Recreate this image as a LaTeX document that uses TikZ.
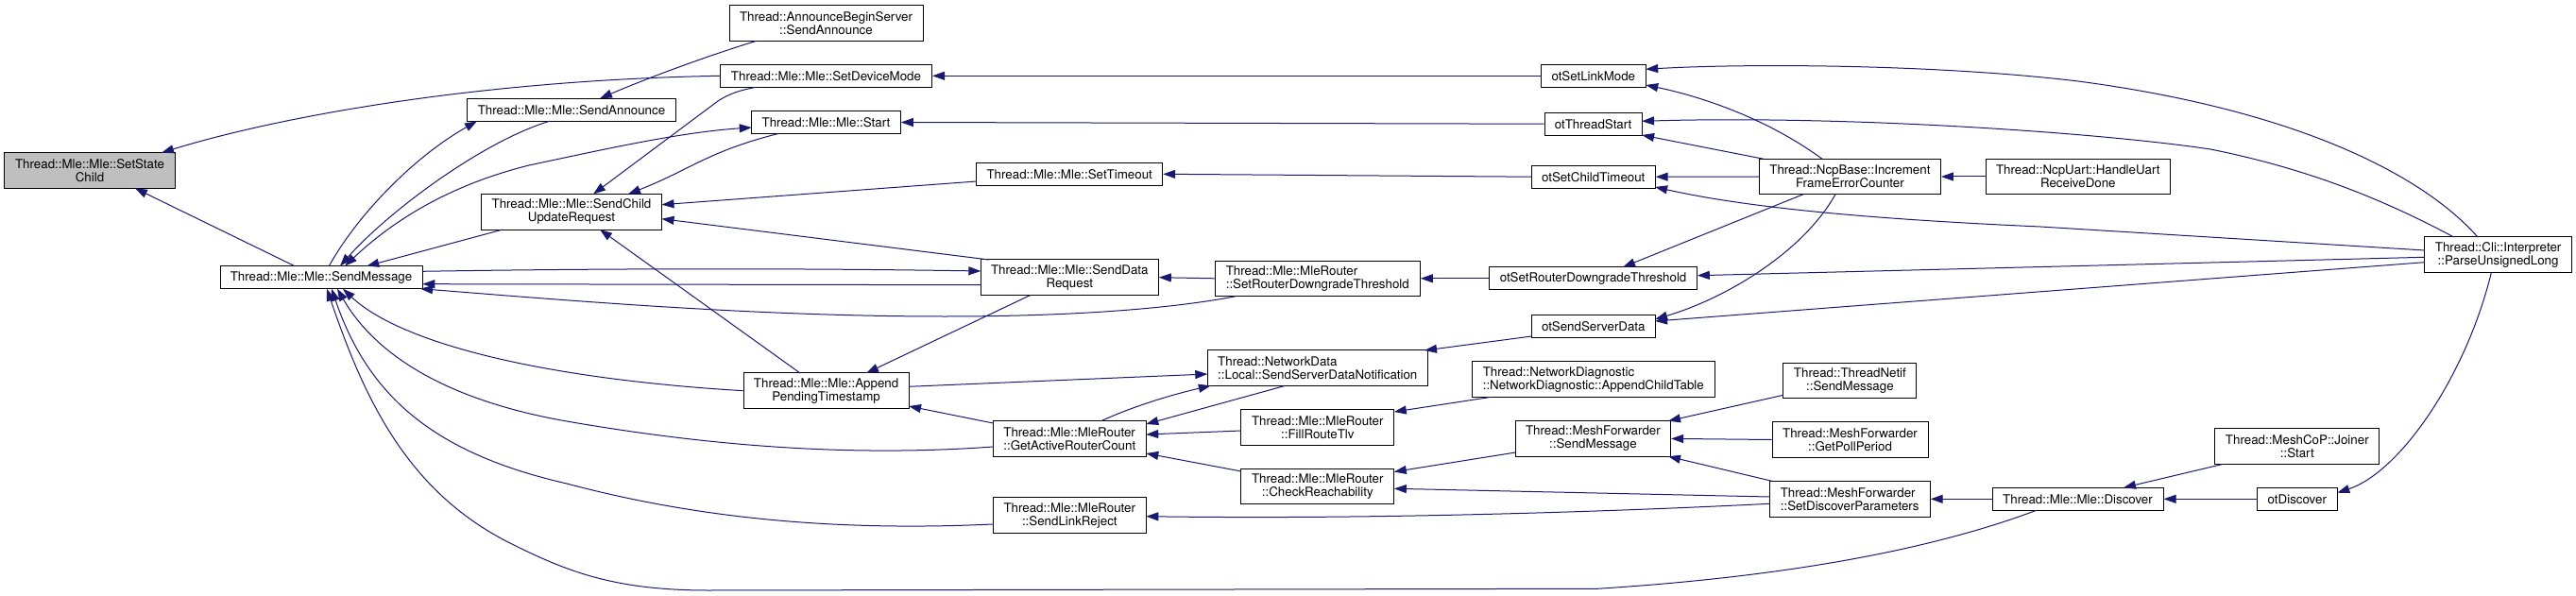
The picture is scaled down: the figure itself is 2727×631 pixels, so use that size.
\documentclass[tikz,border=0pt]{standalone}
\usepackage{fontspec}
\setmainfont{TeX Gyre Heros}
\usetikzlibrary{arrows.meta,calc}
\definecolor{edgeblue}{HTML}{191970}
\definecolor{rootgray}{HTML}{BFBFBF}
\tikzset{
  box/.style={draw=black, line width=1pt, fill=white, inner sep=0pt, align=center,
    font=\fontsize{13.33}{14}\selectfont},
  one/.style={minimum height=24pt},
  two/.style={minimum height=37.5pt},
  edge/.style={draw=edgeblue, line width=1pt, {Triangle[length=13pt,width=9pt]}-},
  bothedge/.style={draw=edgeblue, line width=1pt, {Triangle[length=13pt,width=9pt]}-{Triangle[length=13pt,width=9pt]}}
}
\begin{document}
\begin{tikzpicture}[x=1pt,y=-1pt]
\useasboundingbox (0,0) rectangle (2727,631);
% nodes
\node[box,two,fill=rootgray,minimum width=181pt] (ssc) at (95,180.5) {Thread::Mle::Mle::SetState\\Child};
\node[box,one,minimum width=214pt] (sm) at (340,293.7) {Thread::Mle::Mle::SendMessage};
\node[box,one,minimum width=221pt] (sa) at (605,116.3) {Thread::Mle::Mle::SendAnnounce};
\node[box,two,minimum width=191pt] (scur) at (605,224.3) {Thread::Mle::Mle::SendChild\\UpdateRequest};
\node[box,two,minimum width=205pt] (abs) at (874.5,24.5) {Thread::AnnounceBeginServer\\::SendAnnounce};
\node[box,one,minimum width=224pt] (sdm) at (874.5,80.3) {Thread::Mle::Mle::SetDeviceMode};
\node[box,one,minimum width=157.5pt] (st) at (874.5,129.5) {Thread::Mle::Mle::Start};
\node[box,two,minimum width=175pt] (apt) at (874.6,413.7) {Thread::Mle::Mle::Append\\PendingTimestamp};
\node[box,one,minimum width=197pt] (sto) at (1132.2,184.3) {Thread::Mle::Mle::SetTimeout};
\node[box,two,minimum width=188pt] (sdr) at (1132.3,293.7) {Thread::Mle::Mle::SendData\\Request};
\node[box,two,minimum width=162pt,align=left] (garc) at (1132.3,464.4) {Thread::Mle::MleRouter\\::GetActiveRouterCount};
\node[box,two,minimum width=162pt] (slr) at (1132.3,545.7) {Thread::Mle::MleRouter\\::SendLinkReject};
\node[box,two,minimum width=217pt,align=left] (mrsrdt) at (1394.8,294.8) {Thread::Mle::MleRouter\\::SetRouterDowngradeThreshold};
\node[box,two,minimum width=233pt,align=left] (ssdn) at (1394.8,389.7) {Thread::NetworkData\\::Local::SendServerDataNotification};
\node[box,two,minimum width=162pt] (frt) at (1394.8,452.3) {Thread::Mle::MleRouter\\::FillRouteTlv};
\node[box,two,minimum width=162pt] (cr) at (1394.8,515) {Thread::Mle::MleRouter\\::CheckReachability};
\node[box,one,minimum width=110.7pt] (osl) at (1686.8,80.3) {otSetLinkMode};
\node[box,one,minimum width=103pt] (ots) at (1686.6,131.2) {otThreadStart};
\node[box,one,minimum width=130.7pt] (osct) at (1686.8,187.2) {otSetChildTimeout};
\node[box,one,minimum width=220.4pt] (osrdt) at (1686.6,294.8) {otSetRouterDowngradeThreshold};
\node[box,one,minimum width=130.7pt] (ossd) at (1686.8,345.7) {otSendServerData};
\node[box,two,minimum width=256.4pt,align=left] (act) at (1686.8,401.7) {Thread::NetworkDiagnostic\\::NetworkDiagnostic::AppendChildTable};
\node[box,two,minimum width=164.3pt] (mfsm) at (1686.4,464.4) {Thread::MeshForwarder\\::SendMessage};
\node[box,two,minimum width=192pt] (ifec) at (1958.4,187) {Thread::NcpBase::Increment\\FrameErrorCounter};
\node[box,two,minimum width=141pt] (tnsm) at (1958.4,403) {Thread::ThreadNetif\\::SendMessage};
\node[box,two,minimum width=165pt] (gpp) at (1958.5,465.5) {Thread::MeshForwarder\\::GetPollPeriod};
\node[box,two,minimum width=170pt,align=left] (sdp) at (1958.2,528.3) {Thread::MeshForwarder\\::SetDiscoverParameters};
\node[box,two,minimum width=195pt] (hur) at (2199.8,187) {Thread::NcpUart::HandleUart\\ReceiveDone};
\node[box,one,minimum width=181pt] (disc) at (2199.5,528.3) {Thread::Mle::Mle::Discover};
\node[box,two,minimum width=174pt] (join) at (2431.8,472.5) {Thread::MeshCoP::Joiner\\::Start};
\node[box,one,minimum width=85pt] (otd) at (2431.8,528.3) {otDiscover};
\node[box,two,minimum width=156pt] (pul) at (2644.6,269.7) {Thread::Cli::Interpreter\\::ParseUnsignedLong};
% edges
\draw[edge] ($(ssc)+(47.9,18.8)$) -- ($(sm)+(-28,-12)$);
\draw[edge] ($(ssc)+(76,-18.8)$) .. controls (290,125) and (500,85) .. (sdm.west);
\draw[edge] ($(sa)+(-100,12)$) .. controls (440,165) and (380,225) .. ($(sm)+(8.3,-12)$);
\draw[edge] ($(sm)+(20,-12)$) .. controls (410,225) and (510,150) .. ($(sa)+(-23.3,12)$);
\draw[bothedge] ($(sm)+(25,-12)$) .. controls (420,230) and (480,195) .. (560,175) .. controls (640,158) and (720,140) .. ($(st)+(-78.75,5.5)$);
\draw[edge] ($(sm)+(48.3,-12)$) -- ($(scur)+(-72.7,18.7)$);
\draw[edge] ($(sdr)+(-94,-6.7)$) .. controls (850,284) and (650,284) .. ($(sm)+(107.3,-6.4)$);
\draw[edge] ($(sm)+(107.3,7)$) -- ($(sdr)+(-94,8)$);
\draw[edge] ($(sm)+(105,12)$) .. controls (600,318) and (800,335) .. (1000,335) .. controls (1150,335) and (1250,325) .. ($(mrsrdt)+(-86.2,18.8)$);
\draw[edge] ($(sm)+(23,12)$) .. controls (420,360) and (560,400) .. (apt.west);
\draw[edge] ($(sm)+(17,12)$) .. controls (400,380) and (480,425) .. (600,446) .. controls (750,472) and (900,484) .. ($(garc)+(-81,8.6)$);
\draw[edge] ($(sm)+(11,12)$) .. controls (390,420) and (460,480) .. (600,512) .. controls (750,552) and (900,562) .. ($(slr)+(-81,9.3)$);
\draw[edge] ($(sm)+(6,12)$) .. controls (385,420) and (430,520) .. (540,575) .. controls (600,605) and (650,625) .. (750,625) -- (1691,623.3) .. controls (1900,610) and (2050,580) .. ($(disc)+(-43.8,12)$);
\draw[edge] ($(sa)+(30,-12)$) .. controls (680,85) and (740,62) .. ($(abs)+(-73.8,18.8)$);
\draw[edge] ($(scur)+(23,-18.8)$) -- (760,107) .. controls (772,99) and (785,95) .. ($(sdm)+(-73.8,12)$);
\draw[edge] ($(scur)+(60,-18.8)$) .. controls (730,180) and (750,160) .. ($(st)+(-50.5,12)$);
\draw[edge] ($(scur)+(95.5,-7.6)$) -- ($(sto)+(-98.5,7.7)$);
\draw[edge] ($(scur)+(95.5,7.4)$) -- ($(sdr)+(-85.3,-18.7)$);
\draw[edge] ($(scur)+(30,18.7)$) -- ($(apt)+(-27.6,-18.7)$);
\draw[edge] ($(apt)+(42.4,-18.7)$) -- ($(sdr)+(-41.6,18.8)$);
\draw[edge] ($(apt)+(87.4,16.3)$) -- ($(garc)+(-81,-16.4)$);
\draw[edge] ($(ssdn)+(-116.5,6.3)$) -- ($(apt)+(87.4,-4.4)$);
\draw[edge] (sdm.east) -- (osl.west);
\draw[edge] (st.east) -- (ots.west);
\draw[edge] (sto.east) -- (osct.west);
\draw[edge] (sdr.east) -- (mrsrdt.west);
\draw[edge] (mrsrdt.east) -- (osrdt.west);
\draw[edge] ($(ssdn)+(113.2,-18.7)$) -- ($(ossd)+(-65.4,10.3)$);
\draw[edge] ($(ssdn)+(-113,18.6)$) .. controls (1240,418) and (1200,430) .. ($(garc)+(33.4,-18.7)$);
\draw[edge] ($(garc)+(81,-15.4)$) -- ($(ssdn)+(-34.8,18.8)$);
\draw[edge] ($(garc)+(81,-4.4)$) -- ($(frt)+(-81,3.7)$);
\draw[edge] ($(garc)+(81,15.6)$) -- ($(cr)+(-80.8,-16)$);
\draw[edge] ($(frt)+(81,-16.3)$) -- ($(act)+(-108.8,18.7)$);
\draw[edge] ($(cr)+(81,-15.5)$) -- ($(mfsm)+(-82.1,14.6)$);
\draw[edge] ($(cr)+(81,2.3)$) -- ($(sdp)+(-85,-2.3)$);
\draw[edge] ($(slr)+(81,1)$) .. controls (1450,550) and (1700,542) .. ($(sdp)+(-85,5)$);
\draw[edge] ($(osl)+(55.4,-7)$) .. controls (1850,67) and (2050,68) .. (2200,86) .. controls (2420,115) and (2560,180) .. ($(pul)+(-21.6,-18.7)$);
\draw[edge] ($(osl)+(55.4,9.7)$) .. controls (1800,102) and (1870,125) .. ($(ifec)+(-29.4,-18.7)$);
\draw[edge] ($(ots)+(51.5,-2.9)$) .. controls (1950,122) and (2220,140) .. (2340,158) .. controls (2450,180) and (2530,215) .. ($(pul)+(-47,-18.7)$);
\draw[edge] ($(ots)+(51.5,11.8)$) -- ($(ifec)+(-91.4,-18.7)$);
\draw[edge] (osct.east) -- (ifec.west);
\draw[edge] ($(osct)+(65.3,10.8)$) .. controls (1850,220) and (1980,232) .. (2160,240) -- ($(pul)+(-78,-4.7)$);
\draw[edge] ($(osrdt)+(31.4,-12)$) -- ($(ifec)+(-49.4,18.7)$);
\draw[edge] ($(osrdt)+(110.2,-3.1)$) -- ($(pul)+(-78,2.6)$);
\draw[edge] ($(ossd)+(65.3,-7.7)$) .. controls (1830,315) and (1910,265) .. ($(ifec)+(-15.4,18.7)$);
\draw[edge] ($(ossd)+(65.3,-5.7)$) -- ($(pul)+(-78,8)$);
\draw[edge] (ifec.east) -- (hur.west);
\draw[edge] ($(mfsm)+(79.6,-18.7)$) -- ($(tnsm)+(-70.5,15.3)$);
\draw[edge] (mfsm.east) -- (gpp.west);
\draw[edge] ($(mfsm)+(79.6,18.8)$) -- ($(sdp)+(-81.2,-18.7)$);
\draw[edge] (sdp.east) -- (disc.west);
\draw[edge] ($(disc)+(48.5,-12)$) -- ($(join)+(-78.3,18.8)$);
\draw[edge] (disc.east) -- (otd.west);
\draw[edge] ($(otd)+(42.5,-6.6)$) .. controls (2540,500) and (2610,400) .. ($(pul)+(-7.2,18.7)$);
\end{tikzpicture}
\end{document}
